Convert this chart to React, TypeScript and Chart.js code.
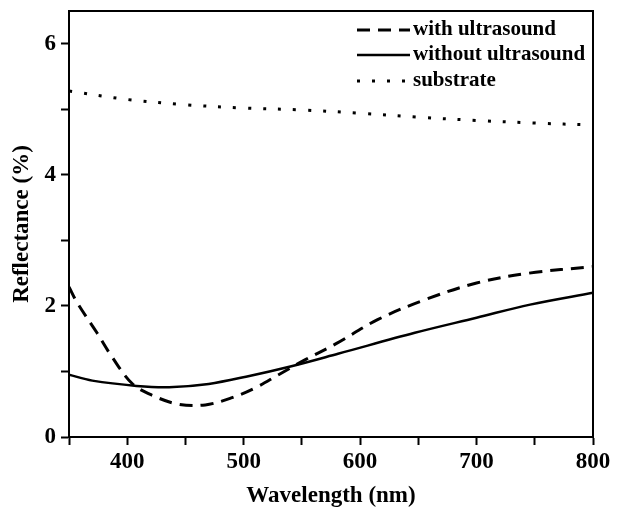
import React, { useEffect, useRef } from "react";
import { Chart, registerables } from "chart.js";

Chart.register(...registerables);

const wlWith = [350, 357, 374, 387, 404, 421, 444, 467, 490, 510, 530, 553, 579, 615, 655, 700, 745, 800];
const withUltrasound = [2.29, 2.05, 1.59, 1.22, 0.82, 0.64, 0.5, 0.49, 0.6, 0.75, 0.95, 1.18, 1.42, 1.79, 2.09, 2.35, 2.5, 2.6];
const wlWithout = [350, 370, 408, 436, 470, 502, 541, 581, 647, 700, 746, 800];
const withoutUltrasound = [0.95, 0.86, 0.78, 0.76, 0.81, 0.92, 1.08, 1.27, 1.59, 1.82, 2.02, 2.2];
const wlSubstrate = [350, 400, 450, 500, 550, 600, 650, 700, 750, 800];
const substrate = [5.28, 5.15, 5.07, 5.02, 4.99, 4.94, 4.88, 4.83, 4.79, 4.76];
const seriesNames = ["with ultrasound", "without ultrasound", "substrate"];
const xTickLabels = [400, 500, 600, 700, 800];
const yTickLabels = [0, 2, 4, 6];

const FONT = "'Liberation Serif', 'Times New Roman', serif";

const toPoints = (xs: number[], ys: number[]) => xs.map((x, i) => ({ x, y: ys[i] }));

const framePlugin = {
  id: "frameAndLegend",
  afterDraw(chart: any) {
    const { ctx, chartArea } = chart;
    const { left, right, top, bottom } = chartArea;
    ctx.save();
    ctx.strokeStyle = "#000";
    ctx.lineWidth = 2;
    ctx.strokeRect(left, top, right - left, bottom - top);

    const ds = chart.data.datasets;
    const x0 = left + 288;
    const x1 = left + 341;
    const rows = [top + 19, top + 44, top + 70];
    ctx.font = `bold 21px ${FONT}`;
    ctx.fillStyle = "#000";
    ctx.textBaseline = "middle";
    ds.forEach((d: any, i: number) => {
      const y = rows[i];
      ctx.beginPath();
      ctx.setLineDash(d.borderDash || []);
      ctx.lineWidth = d.borderWidth;
      ctx.lineCap = "butt";
      ctx.moveTo(x0, y);
      ctx.lineTo(x1, y);
      ctx.stroke();
      ctx.setLineDash([]);
      ctx.fillText(d.label, x1 + 3, y);
    });
    ctx.restore();
  },
};

export default function App() {
  const ref = useRef<HTMLCanvasElement | null>(null);
  useEffect(() => {
    if (!ref.current) return;
    const chart = new Chart(ref.current, {
      type: "line",
      data: {
        datasets: [
          {
            label: seriesNames[0],
            data: toPoints(wlWith, withUltrasound),
            borderColor: "#000",
            borderWidth: 3,
            borderDash: [13, 8],
            pointRadius: 0,
            tension: 0.35,
          },
          {
            label: seriesNames[1],
            data: toPoints(wlWithout, withoutUltrasound),
            borderColor: "#000",
            borderWidth: 2.5,
            pointRadius: 0,
            tension: 0.35,
          },
          {
            label: seriesNames[2],
            data: toPoints(wlSubstrate, substrate),
            borderColor: "#000",
            borderWidth: 3,
            borderDash: [3, 12],
            pointRadius: 0,
            tension: 0.35,
          },
        ],
      },
      options: {
        animation: false,
        responsive: true,
        maintainAspectRatio: false,
        layout: { padding: { top: 11, right: 31, left: 0, bottom: 0 } },
        plugins: { legend: { display: false }, tooltip: { enabled: false } },
        scales: {
          x: {
            type: "linear",
            min: 350,
            max: 800,
            grid: {
              drawOnChartArea: false,
              drawTicks: true,
              tickLength: 8,
              tickWidth: 2,
              tickColor: "#000",
            },
            border: { display: true, color: "#000", width: 2 },
            ticks: {
              stepSize: 50,
              includeBounds: false,
              color: "#000",
              font: { family: FONT, size: 23, weight: "bold" },
              padding: 3,
              maxRotation: 0,
              autoSkip: false,
              callback: (v: any) => (xTickLabels.includes(Number(v)) ? String(v) : ""),
            },
            title: {
              display: true,
              text: "Wavelength (nm)",
              color: "#000",
              font: { family: FONT, size: 23, weight: "bold" },
              padding: { top: 0, bottom: 0 },
            },
            afterFit: (s: any) => {
              s.height = 73;
              s.paddingLeft = 0;
            },
          },
          y: {
            type: "linear",
            min: 0,
            max: 6.5,
            grid: {
              drawOnChartArea: false,
              drawTicks: true,
              tickLength: 8,
              tickWidth: 2,
              tickColor: "#000",
            },
            border: { display: true, color: "#000", width: 2 },
            ticks: {
              stepSize: 1,
              includeBounds: false,
              color: "#000",
              font: { family: FONT, size: 23, weight: "bold" },
              padding: 5,
              autoSkip: false,
              callback: (v: any) => (yTickLabels.includes(Number(v)) ? String(v) : ""),
            },
            title: {
              display: true,
              text: "Reflectance (%)",
              color: "#000",
              font: { family: FONT, size: 23, weight: "bold" },
              padding: { top: 8, bottom: 0 },
            },
            afterFit: (s: any) => {
              s.width = 69;
              s.paddingTop = 0;
              s.paddingBottom = 0;
            },
          },
        },
      },
      plugins: [framePlugin],
    } as any);
    return () => chart.destroy();
  }, []);
  return (
    <div style={{ position: "fixed", left: 0, top: 0, width: 624, height: 510, background: "#fff" }}>
      <canvas ref={ref} />
    </div>
  );
}
